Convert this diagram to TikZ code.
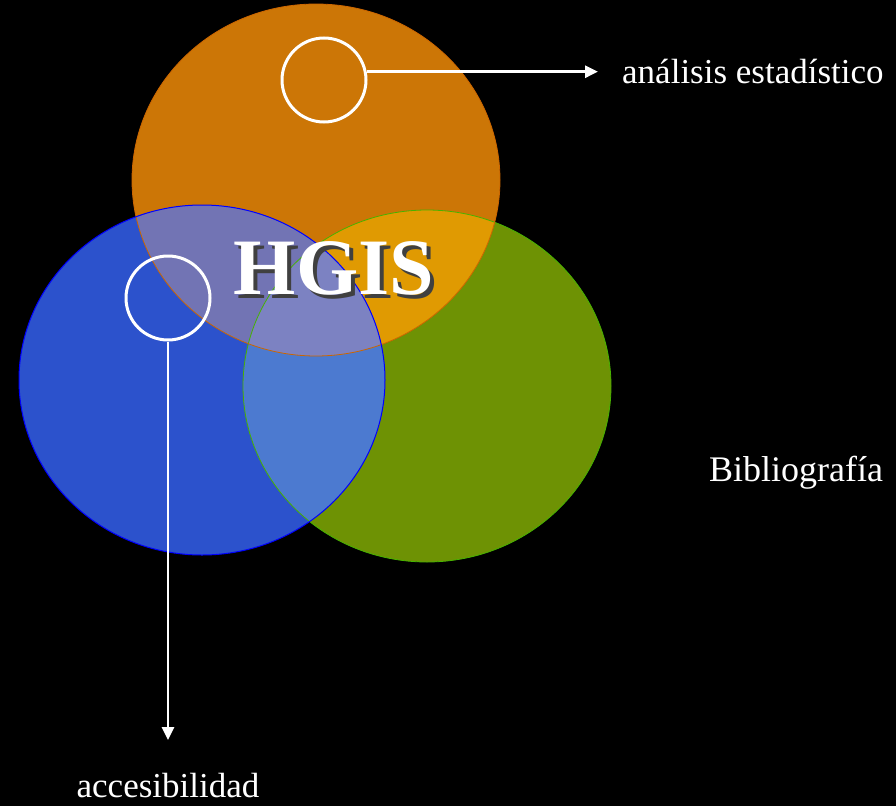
\documentclass[tikz,border=0pt]{standalone}
\usepackage{fontspec}
\setmainfont{Liberation Serif}
\usetikzlibrary{arrows.meta}
\definecolor{orangeC}{HTML}{CC7606}
\definecolor{greenC}{HTML}{6E9204}
\definecolor{blueC}{HTML}{2C52CC}
\definecolor{orgreen}{HTML}{E09A02}
\definecolor{blueor}{HTML}{7274B4}
\definecolor{bluegreen}{HTML}{4C7AD0}
\definecolor{triple}{HTML}{7C82C2}
\begin{document}
\begin{tikzpicture}[x=1pt,y=-1pt,
  ring/.style={circle,draw=white,line width=3pt,minimum size=84pt,inner sep=0pt},
  pointer/.style={draw=white,line width=2.8pt,-{Triangle[length=13pt,width=12pt]}},
  label/.style={text=white,inner sep=0pt,font=\fontsize{35}{40}\selectfont}]
\fill[black] (0,0) rectangle (896,806);
\useasboundingbox (0,0) rectangle (896,806);
% three main discs
\def\orangeE{(316,180) ellipse [x radius=184,y radius=176]}
\def\greenE{(427,386) ellipse [x radius=184,y radius=176]}
\def\blueE{(202,380) ellipse [x radius=183,y radius=175]}
\fill[greenC] \greenE;
\fill[orangeC] \orangeE;
\fill[blueC] \blueE;
% overlaps
\begin{scope}
  \clip \orangeE;
  \fill[orgreen] \greenE;
  \fill[blueor] \blueE;
\end{scope}
\begin{scope}
  \clip \blueE;
  \fill[bluegreen] \greenE;
\end{scope}
\begin{scope}
  \clip \orangeE;
  \clip \blueE;
  \fill[triple] \greenE;
\end{scope}
\draw[color=green!60!yellow!70!black,line width=0.8pt] \greenE;
\draw[color=orange!80!black,line width=0.8pt] \orangeE;
\draw[color=blue,line width=1pt] \blueE;
% title with its drop shadow
\node (title) [text=white,inner sep=0pt,font=\bfseries\fontsize{80}{90}\selectfont] at (334,270)
  {\makebox[0pt][l]{\hspace{4pt}\raisebox{-4pt}{\color{black!75}HGIS}}HGIS};
% pointer rings
\node (r1) [ring] at (324,80) {};
\node (r2) [ring] at (168,298) {};
% labels
\node (l1) [label,anchor=west] at (622,72) {análisis estadístico};
\node (l2) [label] at (168,786) {accesibilidad};
\node (l3) [label,anchor=west,font=\fontsize{36}{40}\selectfont] at (709,473) {Bibliografía};
\coordinate (e1) at (598,72);
\coordinate (e2) at (167,740);
\draw[pointer] (r1.11) -- (r1.11 -| e1);
\draw[pointer] (r2.south) -- (r2.south |- e2);
\end{tikzpicture}
\end{document}
